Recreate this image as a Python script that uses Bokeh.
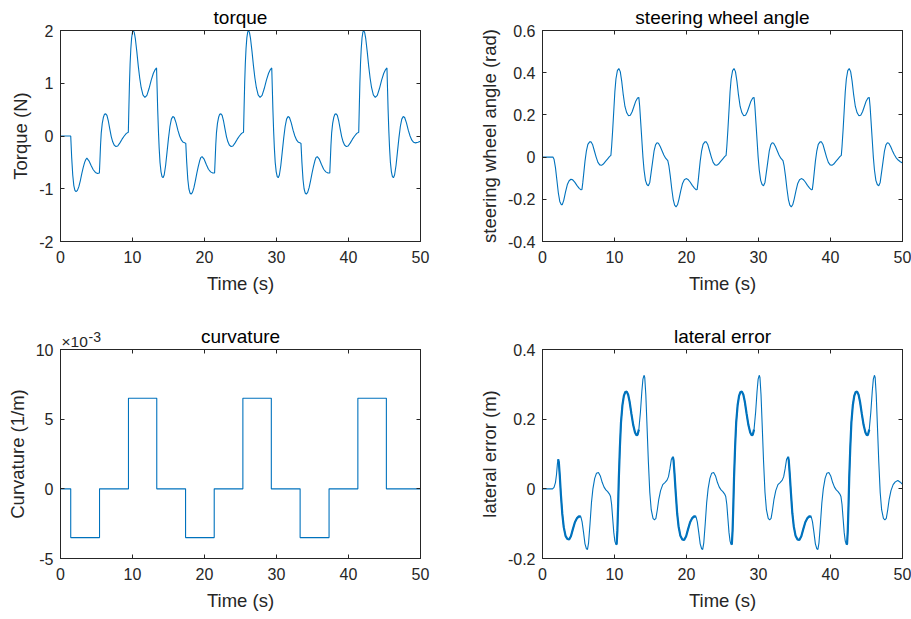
from bokeh.plotting import figure
from bokeh.layouts import column, row
from bokeh.models import FixedTicker, LinearAxis, Range1d, Label
from bokeh.embed import file_html
from bokeh.resources import INLINE

# ---------------- data ----------------
x_ticks = [0, 10, 20, 30, 40, 50]

# torque (N): (time s, value)
torque = [
    (0, 0), (1.42, 0), (1.55, -0.40), (1.70, -0.74), (1.85, -0.94), (2.00, -1.03), (2.16, -1.056),
    (2.35, -1.03), (2.55, -0.96), (2.75, -0.85), (2.95, -0.72), (3.15, -0.60), (3.35, -0.50),
    (3.50, -0.45), (3.66, -0.42), (3.95, -0.47), (4.25, -0.56), (4.55, -0.64), (4.85, -0.69),
    (5.15, -0.71), (5.40, -0.70), (5.48, -0.45), (5.56, -0.18), (5.66, 0.06), (5.80, 0.24),
    (5.95, 0.35), (6.10, 0.41), (6.28, 0.42), (6.45, 0.39), (6.65, 0.28), (6.85, 0.13),
    (7.05, -0.01), (7.25, -0.11), (7.45, -0.17), (7.70, -0.20), (7.95, -0.19), (8.25, -0.13),
    (8.55, -0.06), (8.85, 0.00), (9.15, 0.05), (9.42, 0.07), (9.50, 0.55), (9.58, 1.00),
    (9.67, 1.38), (9.77, 1.66), (9.88, 1.86), (10.00, 1.97), (10.12, 2.00), (10.25, 1.96),
    (10.40, 1.84), (10.60, 1.60), (10.80, 1.33), (11.00, 1.10), (11.20, 0.92), (11.45, 0.78),
    (11.72, 0.73), (12.00, 0.77), (12.30, 0.90), (12.60, 1.06), (12.90, 1.19), (13.15, 1.26),
    (13.34, 1.29), (13.42, 0.90), (13.50, 0.50), (13.60, 0.10), (13.70, -0.22), (13.82, -0.50),
    (13.96, -0.68), (14.10, -0.77), (14.24, -0.79), (14.40, -0.74), (14.60, -0.56), (14.80, -0.30),
    (15.00, -0.04), (15.20, 0.18), (15.40, 0.32), (15.60, 0.37), (15.80, 0.35), (16.05, 0.25),
    (16.30, 0.11), (16.55, 0.00), (16.80, -0.08), (17.05, -0.12), (17.25, -0.13), (17.40, -0.14),
    (17.53, -0.50), (17.68, -0.82), (17.83, -1.00), (17.98, -1.08), (18.14, -1.10), (18.33, -1.07),
    (18.53, -0.98), (18.73, -0.85), (18.93, -0.71), (19.13, -0.58), (19.33, -0.47), (19.48, -0.41),
    (19.66, -0.39), (19.95, -0.44), (20.25, -0.54), (20.55, -0.63), (20.85, -0.68), (21.15, -0.70),
    (21.40, -0.70), (21.48, -0.45), (21.56, -0.18), (21.66, 0.06), (21.80, 0.24), (21.95, 0.35),
    (22.10, 0.41), (22.28, 0.42), (22.45, 0.39), (22.65, 0.28), (22.85, 0.13), (23.05, -0.01),
    (23.25, -0.11), (23.45, -0.17), (23.70, -0.20), (23.95, -0.19), (24.25, -0.13), (24.55, -0.06),
    (24.85, 0.00), (25.15, 0.05), (25.42, 0.07), (25.50, 0.55), (25.58, 1.00), (25.67, 1.38),
    (25.77, 1.66), (25.88, 1.86), (26.00, 1.97), (26.12, 2.00), (26.25, 1.96), (26.40, 1.84),
    (26.60, 1.60), (26.80, 1.33), (27.00, 1.10), (27.20, 0.92), (27.45, 0.78), (27.72, 0.73),
    (28.00, 0.77), (28.30, 0.90), (28.60, 1.06), (28.90, 1.19), (29.15, 1.26), (29.34, 1.29),
    (29.42, 0.90), (29.50, 0.50), (29.60, 0.10), (29.70, -0.22), (29.82, -0.50), (29.96, -0.68),
    (30.10, -0.77), (30.24, -0.79), (30.40, -0.74), (30.60, -0.56), (30.80, -0.30), (31.00, -0.04),
    (31.20, 0.18), (31.40, 0.32), (31.60, 0.37), (31.80, 0.35), (32.05, 0.25), (32.30, 0.11),
    (32.55, 0.00), (32.80, -0.08), (33.05, -0.12), (33.25, -0.13), (33.40, -0.14),
    (33.53, -0.50), (33.68, -0.82), (33.83, -1.00), (33.98, -1.08), (34.14, -1.10), (34.33, -1.07),
    (34.53, -0.98), (34.73, -0.85), (34.93, -0.71), (35.13, -0.58), (35.33, -0.47), (35.48, -0.41),
    (35.66, -0.39), (35.95, -0.44), (36.25, -0.54), (36.55, -0.63), (36.85, -0.68), (37.15, -0.70),
    (37.40, -0.70), (37.48, -0.45), (37.56, -0.18), (37.66, 0.06), (37.80, 0.24), (37.95, 0.35),
    (38.10, 0.41), (38.28, 0.42), (38.45, 0.39), (38.65, 0.28), (38.85, 0.13), (39.05, -0.01),
    (39.25, -0.11), (39.45, -0.17), (39.70, -0.20), (39.95, -0.19), (40.25, -0.13), (40.55, -0.06),
    (40.85, 0.00), (41.15, 0.05), (41.42, 0.07), (41.50, 0.55), (41.58, 1.00), (41.67, 1.38),
    (41.77, 1.66), (41.88, 1.86), (42.00, 1.97), (42.12, 2.00), (42.25, 1.96), (42.40, 1.84),
    (42.60, 1.60), (42.80, 1.33), (43.00, 1.10), (43.20, 0.92), (43.45, 0.78), (43.72, 0.73),
    (44.00, 0.77), (44.30, 0.90), (44.60, 1.06), (44.90, 1.19), (45.15, 1.26), (45.34, 1.29),
    (45.42, 0.90), (45.50, 0.50), (45.60, 0.10), (45.70, -0.22), (45.82, -0.50), (45.96, -0.68),
    (46.10, -0.77), (46.24, -0.79), (46.40, -0.74), (46.60, -0.56), (46.80, -0.30), (47.00, -0.04),
    (47.20, 0.18), (47.40, 0.32), (47.60, 0.37), (47.80, 0.35), (48.05, 0.25), (48.30, 0.11),
    (48.55, 0.00), (48.80, -0.08), (49.05, -0.12), (49.30, -0.13), (49.65, -0.12), (50.00, -0.10),
]

# steering wheel angle (rad)
steering = [
    (0, 0), (1.45, 0), (1.6, -0.01), (1.8, -0.05), (2.0, -0.11), (2.2, -0.17), (2.4, -0.21),
    (2.6, -0.225), (2.75, -0.225), (2.95, -0.205), (3.2, -0.165), (3.45, -0.13), (3.7, -0.112),
    (3.95, -0.105), (4.2, -0.108), (4.5, -0.12), (4.8, -0.135), (5.1, -0.148), (5.35, -0.155),
    (5.48, -0.153), (5.6, -0.12), (5.75, -0.07), (5.9, -0.02), (6.1, 0.03), (6.3, 0.06),
    (6.55, 0.072), (6.75, 0.072), (6.95, 0.06), (7.2, 0.03), (7.45, 0.0), (7.7, -0.025),
    (7.95, -0.037), (8.2, -0.039), (8.45, -0.033), (8.75, -0.02), (9.05, -0.008), (9.3, 0.002),
    (9.5, 0.008), (9.6, 0.05), (9.75, 0.13), (9.9, 0.22), (10.05, 0.31), (10.2, 0.37), (10.4, 0.41),
    (10.6, 0.42), (10.8, 0.405), (11.0, 0.36), (11.2, 0.30), (11.45, 0.24), (11.7, 0.21),
    (11.95, 0.196), (12.2, 0.198), (12.45, 0.215), (12.7, 0.24), (12.95, 0.265), (13.2, 0.28),
    (13.38, 0.283), (13.5, 0.24), (13.65, 0.16), (13.8, 0.08), (13.95, 0.0), (14.1, -0.06),
    (14.3, -0.11), (14.5, -0.13), (14.7, -0.136), (14.9, -0.12), (15.1, -0.07), (15.3, -0.02),
    (15.5, 0.03), (15.7, 0.058), (15.9, 0.068), (16.1, 0.066), (16.35, 0.05), (16.6, 0.03),
    (16.85, 0.01), (17.1, -0.005), (17.4, -0.017),
    (17.55, -0.04), (17.75, -0.09), (17.95, -0.15), (18.15, -0.2), (18.35, -0.228), (18.55, -0.236),
    (18.75, -0.226), (18.95, -0.2), (19.2, -0.16), (19.45, -0.125), (19.7, -0.107), (19.95, -0.102),
    (20.2, -0.106), (20.5, -0.118), (20.8, -0.134), (21.1, -0.147), (21.35, -0.155), (21.48, -0.153),
    (21.6, -0.12), (21.75, -0.07), (21.9, -0.02), (22.1, 0.03), (22.3, 0.06), (22.55, 0.072),
    (22.75, 0.072), (22.95, 0.06), (23.2, 0.03), (23.45, 0.0), (23.7, -0.025), (23.95, -0.037),
    (24.2, -0.039), (24.45, -0.033), (24.75, -0.02), (25.05, -0.008), (25.3, 0.002), (25.5, 0.008),
    (25.6, 0.05), (25.75, 0.13), (25.9, 0.22), (26.05, 0.31), (26.2, 0.37), (26.4, 0.41),
    (26.6, 0.42), (26.8, 0.405), (27.0, 0.36), (27.2, 0.30), (27.45, 0.24), (27.7, 0.21),
    (27.95, 0.196), (28.2, 0.198), (28.45, 0.215), (28.7, 0.24), (28.95, 0.265), (29.2, 0.28),
    (29.38, 0.283), (29.5, 0.24), (29.65, 0.16), (29.8, 0.08), (29.95, 0.0), (30.1, -0.06),
    (30.3, -0.11), (30.5, -0.13), (30.7, -0.136), (30.9, -0.12), (31.1, -0.07), (31.3, -0.02),
    (31.5, 0.03), (31.7, 0.058), (31.9, 0.068), (32.1, 0.066), (32.35, 0.05), (32.6, 0.03),
    (32.85, 0.01), (33.1, -0.005), (33.4, -0.017),
    (33.55, -0.04), (33.75, -0.09), (33.95, -0.15), (34.15, -0.2), (34.35, -0.228), (34.55, -0.236),
    (34.75, -0.226), (34.95, -0.2), (35.2, -0.16), (35.45, -0.125), (35.7, -0.107), (35.95, -0.102),
    (36.2, -0.106), (36.5, -0.118), (36.8, -0.134), (37.1, -0.147), (37.35, -0.155), (37.48, -0.153),
    (37.6, -0.12), (37.75, -0.07), (37.9, -0.02), (38.1, 0.03), (38.3, 0.06), (38.55, 0.072),
    (38.75, 0.072), (38.95, 0.06), (39.2, 0.03), (39.45, 0.0), (39.7, -0.025), (39.95, -0.037),
    (40.2, -0.039), (40.45, -0.033), (40.75, -0.02), (41.05, -0.008), (41.3, 0.002), (41.5, 0.008),
    (41.6, 0.05), (41.75, 0.13), (41.9, 0.22), (42.05, 0.31), (42.2, 0.37), (42.4, 0.41),
    (42.6, 0.42), (42.8, 0.405), (43.0, 0.36), (43.2, 0.30), (43.45, 0.24), (43.7, 0.21),
    (43.95, 0.196), (44.2, 0.198), (44.45, 0.215), (44.7, 0.24), (44.95, 0.265), (45.2, 0.28),
    (45.38, 0.283), (45.5, 0.24), (45.65, 0.16), (45.8, 0.08), (45.95, 0.0), (46.1, -0.06),
    (46.3, -0.11), (46.5, -0.13), (46.7, -0.136), (46.9, -0.12), (47.1, -0.07), (47.3, -0.02),
    (47.5, 0.03), (47.7, 0.058), (47.9, 0.068), (48.1, 0.066), (48.35, 0.05), (48.6, 0.03),
    (48.85, 0.012), (49.1, -0.002), (49.4, -0.014), (49.7, -0.022), (50.0, -0.028),
]

# curvature (1/m): step change times and level after each
curv_t = [0, 1.42, 5.42, 9.44, 13.37, 17.37, 21.35, 25.33, 29.28, 33.28, 37.30, 41.30, 45.26, 50]
curv_v = [0, -0.0035, 0, 0.0065, 0, -0.0035, 0, 0.0065, 0, -0.0035, 0, 0.0065, 0, 0]

# lateral error (m)
lateral = [
    (0, 0), (1.4, 0), (1.6, 0.004), (1.8, 0.018), (1.95, 0.042), (2.07, 0.072), (2.17, 0.085),
    (2.27, 0.076), (2.4, 0.038), (2.55, -0.015), (2.75, -0.072), (2.95, -0.11), (3.2, -0.135),
    (3.45, -0.144), (3.7, -0.145), (3.95, -0.136), (4.2, -0.117), (4.5, -0.096), (4.8, -0.084),
    (5.05, -0.079), (5.32, -0.080), (5.5, -0.095), (5.7, -0.125), (5.9, -0.158), (6.1, -0.172),
    (6.25, -0.174), (6.4, -0.155), (6.6, -0.10), (6.8, -0.04), (7.0, 0.0), (7.25, 0.03),
    (7.5, 0.045), (7.77, 0.047), (8.05, 0.036), (8.3, 0.018), (8.55, 0.005), (8.8, -0.003),
    (9.05, -0.008), (9.3, -0.015), (9.45, -0.022), (9.6, -0.045), (9.75, -0.085), (9.9, -0.125),
    (10.05, -0.15), (10.2, -0.16), (10.3, -0.158), (10.4, -0.12), (10.5, -0.05), (10.6, 0.03),
    (10.75, 0.12), (10.9, 0.19), (11.1, 0.24), (11.3, 0.267), (11.5, 0.278), (11.7, 0.279),
    (11.9, 0.27), (12.1, 0.25), (12.35, 0.215), (12.6, 0.183), (12.85, 0.162), (13.05, 0.154),
    (13.2, 0.155), (13.38, 0.17), (13.6, 0.22), (13.8, 0.28), (13.95, 0.315), (14.1, 0.326),
    (14.2, 0.32), (14.35, 0.27), (14.5, 0.19), (14.7, 0.08), (14.9, -0.01), (15.1, -0.06),
    (15.35, -0.085), (15.55, -0.089), (15.75, -0.085), (15.95, -0.06), (16.15, -0.03),
    (16.4, -0.005), (16.7, 0.012), (17.0, 0.018), (17.3, 0.025),
    (17.5, 0.035), (17.7, 0.058), (17.9, 0.085), (18.1, 0.092), (18.2, 0.082), (18.33, 0.045),
    (18.5, -0.01), (18.7, -0.07), (18.9, -0.108), (19.15, -0.135), (19.4, -0.145), (19.67, -0.147),
    (19.95, -0.136), (20.2, -0.117), (20.5, -0.096), (20.8, -0.084), (21.05, -0.079), (21.32, -0.080),
    (21.5, -0.095), (21.7, -0.125), (21.9, -0.158), (22.1, -0.172), (22.25, -0.174), (22.4, -0.155),
    (22.6, -0.10), (22.8, -0.04), (23.0, 0.0), (23.25, 0.03), (23.5, 0.045), (23.77, 0.047),
    (24.05, 0.036), (24.3, 0.018), (24.55, 0.005), (24.8, -0.003), (25.05, -0.008), (25.3, -0.015),
    (25.45, -0.022), (25.6, -0.045), (25.75, -0.085), (25.9, -0.125), (26.05, -0.15), (26.2, -0.16),
    (26.3, -0.158), (26.4, -0.12), (26.5, -0.05), (26.6, 0.03), (26.75, 0.12), (26.9, 0.19),
    (27.1, 0.24), (27.3, 0.267), (27.5, 0.278), (27.7, 0.279), (27.9, 0.27), (28.1, 0.25),
    (28.35, 0.215), (28.6, 0.183), (28.85, 0.162), (29.05, 0.154), (29.2, 0.155), (29.38, 0.17),
    (29.6, 0.22), (29.8, 0.28), (29.95, 0.315), (30.1, 0.326), (30.2, 0.32), (30.35, 0.27),
    (30.5, 0.19), (30.7, 0.08), (30.9, -0.01), (31.1, -0.06), (31.35, -0.085), (31.55, -0.089),
    (31.75, -0.085), (31.95, -0.06), (32.15, -0.03), (32.4, -0.005), (32.7, 0.012), (33.0, 0.018),
    (33.3, 0.025),
    (33.5, 0.035), (33.7, 0.058), (33.9, 0.085), (34.1, 0.092), (34.2, 0.082), (34.33, 0.045),
    (34.5, -0.01), (34.7, -0.07), (34.9, -0.108), (35.15, -0.135), (35.4, -0.145), (35.67, -0.147),
    (35.95, -0.136), (36.2, -0.117), (36.5, -0.096), (36.8, -0.084), (37.05, -0.079), (37.32, -0.080),
    (37.5, -0.095), (37.7, -0.125), (37.9, -0.158), (38.1, -0.172), (38.25, -0.174), (38.4, -0.155),
    (38.6, -0.10), (38.8, -0.04), (39.0, 0.0), (39.25, 0.03), (39.5, 0.045), (39.77, 0.047),
    (40.05, 0.036), (40.3, 0.018), (40.55, 0.005), (40.8, -0.003), (41.05, -0.008), (41.3, -0.015),
    (41.45, -0.022), (41.6, -0.045), (41.75, -0.085), (41.9, -0.125), (42.05, -0.15), (42.2, -0.16),
    (42.3, -0.158), (42.4, -0.12), (42.5, -0.05), (42.6, 0.03), (42.75, 0.12), (42.9, 0.19),
    (43.1, 0.24), (43.3, 0.267), (43.5, 0.278), (43.7, 0.279), (43.9, 0.27), (44.1, 0.25),
    (44.35, 0.215), (44.6, 0.183), (44.85, 0.162), (45.05, 0.154), (45.2, 0.155), (45.38, 0.17),
    (45.6, 0.22), (45.8, 0.28), (45.95, 0.315), (46.1, 0.326), (46.2, 0.32), (46.35, 0.27),
    (46.5, 0.19), (46.7, 0.08), (46.9, -0.01), (47.1, -0.06), (47.35, -0.085), (47.55, -0.089),
    (47.75, -0.085), (47.95, -0.06), (48.15, -0.03), (48.4, -0.005), (48.7, 0.012), (49.0, 0.02),
    (49.35, 0.024), (49.7, 0.019), (50.0, 0.013),
]
# stretches where the lateral-error trace looks thick (chattering)
thick_start = [2.17, 10.2, 18.1, 26.2, 34.1, 42.2]
thick_end = [5.35, 13.4, 21.35, 29.4, 37.35, 45.4]

# ---------------- styling ----------------
FONT = "Liberation Sans"
AX = "#262626"
LINE = "#0072BD"
TICK_PX = "16px"
LABEL_PX = "18.5px"
TITLE_PX = "19px"


def style_axis(ax, ticks, labels, show_labels=True, standoff=7):
    ax.ticker = FixedTicker(ticks=ticks)
    ax.minor_tick_line_color = None
    ax.major_tick_in = 4
    ax.major_tick_out = 0
    ax.axis_line_color = AX
    ax.major_tick_line_color = AX
    ax.major_label_text_font = FONT
    if show_labels:
        ax.major_label_text_color = AX
        ax.major_label_text_font_size = TICK_PX
        ax.major_label_standoff = standoff
        ax.major_label_overrides = {t: l for t, l in zip(ticks, labels)}
        ax.axis_label_text_font = FONT
        ax.axis_label_text_font_size = LABEL_PX
        ax.axis_label_text_color = AX
        ax.axis_label_text_font_style = "normal"
        ax.axis_label_standoff = 7
    else:
        ax.major_label_text_color = None
        ax.major_label_text_font_size = "1px"
        ax.major_label_standoff = 0
        ax.axis_label = None


def make_fig(title, ylabel, y0, y1, yticks, ylabels, left, right, top, bottom, fh):
    p = figure(frame_width=360, frame_height=fh, x_range=Range1d(0, 50), y_range=Range1d(y0, y1),
               min_border_left=left, min_border_right=right, min_border_top=top,
               min_border_bottom=bottom, output_backend="svg", toolbar_location=None, title=title)
    p.title.text_font = FONT
    p.title.text_font_size = TITLE_PX
    p.title.text_font_style = "normal"
    p.title.text_color = "black"
    p.title.align = "center"
    p.title.standoff = 6
    p.grid.visible = False
    p.outline_line_color = AX
    p.background_fill_color = "white"
    p.border_fill_color = "white"
    style_axis(p.xaxis[0], x_ticks, [str(t) for t in x_ticks], standoff=9)
    p.xaxis[0].axis_label = "Time (s)"
    style_axis(p.yaxis[0], yticks, ylabels, standoff=7)
    p.yaxis[0].axis_label = ylabel
    p.yaxis[0].axis_label_standoff = 5
    top_ax = LinearAxis()
    style_axis(top_ax, x_ticks, None, show_labels=False)
    p.add_layout(top_ax, "above")
    right_ax = LinearAxis()
    style_axis(right_ax, yticks, None, show_labels=False)
    p.add_layout(right_ax, "right")
    return p


# torque
p1 = make_fig("torque", "Torque (N)", -2, 2, [-2, -1, 0, 1, 2], ["-2", "-1", "0", "1", "2"],
              60, 50, 30, 78, 211)
p1.line([a for a, b in torque], [b for a, b in torque], line_color=LINE, line_width=1.1)

# steering wheel angle
s_ticks = [-0.4, -0.2, 0, 0.2, 0.4, 0.6]
p2 = make_fig("steering wheel angle", "steering wheel angle (rad)", -0.4, 0.6, s_ticks,
              ["-0.4", "-0.2", "0", "0.2", "0.4", "0.6"], 72, 9, 30, 78, 211)
p2.line([a for a, b in steering], [b for a, b in steering], line_color=LINE, line_width=1.1)

# curvature (shown in units of 1e-3)
p3 = make_fig("curvature", "Curvature (1/m)", -5, 10, [-5, 0, 5, 10], ["-5", "0", "5", "10"],
              60, 50, 30, 61, 209)
p3.step(curv_t, [v * 1000 for v in curv_v], mode="after", line_color=LINE, line_width=1.1)
# exponent note; kept in a side panel so that it is not clipped to the frame
p3.add_layout(Label(x=0, y=10, text="×10", x_offset=1, y_offset=0, text_baseline="bottom",
                    text_font=FONT, text_font_size="15.5px", text_color=AX), "right")
p3.add_layout(Label(x=0, y=10, text="-3", x_offset=28, y_offset=7.5, text_baseline="bottom",
                    text_font=FONT, text_font_size="14px", text_color=AX), "right")

# lateral error
l_ticks = [-0.2, 0, 0.2, 0.4]
p4 = make_fig("lateral error", "lateral error (m)", -0.2, 0.4, l_ticks, ["-0.2", "0", "0.2", "0.4"],
              72, 9, 30, 61, 209)
lt = [a for a, b in lateral]
lv = [b for a, b in lateral]
p4.line(lt, lv, line_color=LINE, line_width=1.1)
for s, e in zip(thick_start, thick_end):
    seg = [(a, b) for a, b in lateral if s <= a <= e]
    p4.line([a for a, b in seg], [b for a, b in seg], line_color=LINE, line_width=2.2)

layout = column(row(p1, p2), row(p3, p4))
open("out.html", "w").write(file_html(layout, INLINE))
